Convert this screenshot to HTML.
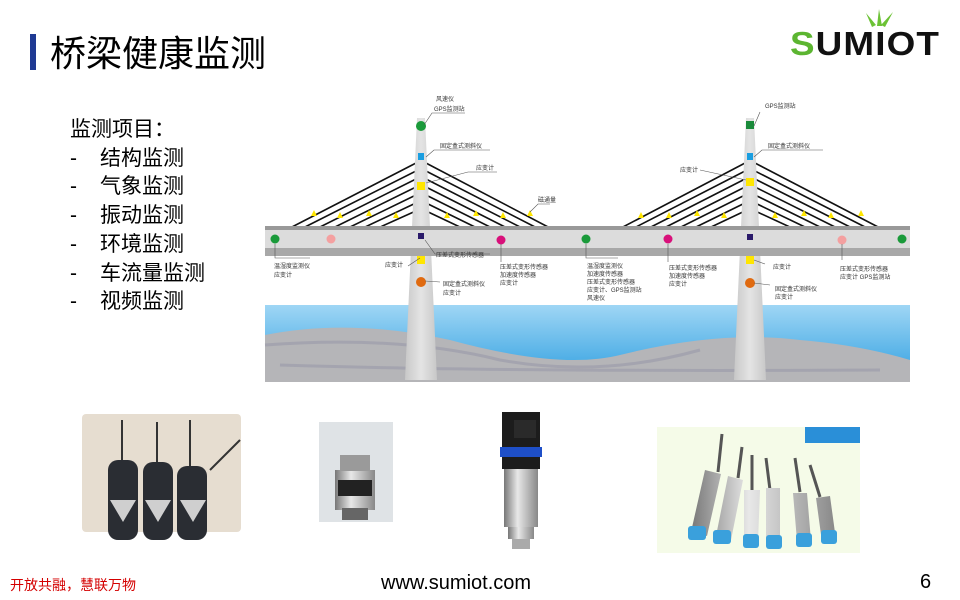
<!DOCTYPE html>
<html><head><meta charset="utf-8"><style>
html,body{margin:0;padding:0;background:#fff}
svg{display:block}
text{font-family:"Liberation Sans","Noto Sans CJK SC",sans-serif}
</style></head><body>
<svg width="960" height="600" viewBox="0 0 960 600" xmlns="http://www.w3.org/2000/svg">
<defs>
<linearGradient id="w" x1="0" y1="0" x2="0" y2="1"><stop offset="0" stop-color="#9fd6f5"/><stop offset="1" stop-color="#2f9fe0"/></linearGradient>
<linearGradient id="tw" x1="0" y1="0" x2="1" y2="0"><stop offset="0" stop-color="#c8c8c8"/><stop offset=".5" stop-color="#e4e4e4"/><stop offset="1" stop-color="#c8c8c8"/></linearGradient>
<linearGradient id="steel" x1="0" y1="0" x2="1" y2="0"><stop offset="0" stop-color="#777"/><stop offset=".4" stop-color="#e8e8e8"/><stop offset="1" stop-color="#888"/></linearGradient>
</defs>
<rect x="30" y="34" width="6" height="36" fill="#1f3a93"/>
<text x="50" y="66" font-size="36" fill="#000">桥梁健康监测</text>
<!-- logo -->
<text x="790" y="55" font-size="33" font-weight="bold" fill="#111" letter-spacing="1" textLength="150" lengthAdjust="spacingAndGlyphs"><tspan fill="#5cb531">S</tspan>UMIOT</text>
<path d="M866 13 L876 25 L872 27Z M879 9 L882 26 L877 26Z M893 12 L885 27 L881 25Z" fill="#6cc235"/>
<g font-size="21" fill="#000">
<text x="70" y="136">监测项目：</text>
<text x="70" y="165">-</text><text x="100" y="165">结构监测</text>
<text x="70" y="193">-</text><text x="100" y="193">气象监测</text>
<text x="70" y="222">-</text><text x="100" y="222">振动监测</text>
<text x="70" y="251">-</text><text x="100" y="251">环境监测</text>
<text x="70" y="280">-</text><text x="100" y="280">车流量监测</text>
<text x="70" y="308">-</text><text x="100" y="308">视频监测</text>
</g>
<!-- bridge -->
<rect x="265" y="305" width="645" height="77" fill="url(#w)"/>
<path d="M265 335 Q350 318 450 340 Q560 370 620 355 Q720 330 800 340 Q860 345 910 360 L910 382 L265 382Z" fill="#b5b5b8"/>
<path d="M265 345 Q400 335 500 360 Q600 378 700 350 M280 365 Q500 372 880 370" stroke="#9a9aa8" stroke-width="3" fill="none" opacity=".6"/>
<g stroke="#111" stroke-width="1.6">
<line x1="418" y1="162" x2="290" y2="228"/><line x1="418" y1="170" x2="303" y2="228"/><line x1="418" y1="178" x2="318" y2="228"/><line x1="418" y1="186" x2="333" y2="228"/><line x1="418" y1="194" x2="348" y2="228"/><line x1="418" y1="202" x2="363" y2="228"/><line x1="418" y1="210" x2="378" y2="228"/>
<line x1="424" y1="162" x2="550" y2="228"/><line x1="424" y1="170" x2="537" y2="228"/><line x1="424" y1="178" x2="522" y2="228"/><line x1="424" y1="186" x2="507" y2="228"/><line x1="424" y1="194" x2="492" y2="228"/><line x1="424" y1="202" x2="477" y2="228"/><line x1="424" y1="210" x2="462" y2="228"/>
<line x1="747" y1="162" x2="621" y2="228"/><line x1="747" y1="170" x2="634" y2="228"/><line x1="747" y1="178" x2="649" y2="228"/><line x1="747" y1="186" x2="664" y2="228"/><line x1="747" y1="194" x2="679" y2="228"/><line x1="747" y1="202" x2="694" y2="228"/><line x1="747" y1="210" x2="709" y2="228"/>
<line x1="753" y1="162" x2="880" y2="228"/><line x1="753" y1="170" x2="867" y2="228"/><line x1="753" y1="178" x2="852" y2="228"/><line x1="753" y1="186" x2="837" y2="228"/><line x1="753" y1="194" x2="822" y2="228"/><line x1="753" y1="202" x2="807" y2="228"/><line x1="753" y1="210" x2="792" y2="228"/>
</g>
<path d="M417 118 L425 118 L437 380 L405 380Z" fill="url(#tw)"/>
<path d="M746 118 L754 118 L766 380 L734 380Z" fill="url(#tw)"/>
<rect x="265" y="226" width="645" height="4" fill="#999"/>
<rect x="265" y="230" width="645" height="18" fill="#dcdcdc"/>
<rect x="265" y="248" width="645" height="8" fill="#a8a8a8"/>
<g fill="#ffe600">
<path d="M314 210l3 6h-6z M340 212l3 6h-6z M369 210l3 6h-6z M396 212l3 6h-6z M447 212l3 6h-6z M476 210l3 6h-6z M503 212l3 6h-6z M530 210l3 6h-6z M641 212l3 6h-6z M669 212l3 6h-6z M697 210l3 6h-6z M724 212l3 6h-6z M775 212l3 6h-6z M804 210l3 6h-6z M831 212l3 6h-6z M861 210l3 6h-6z"/>
<rect x="417" y="182" width="8" height="8"/><rect x="746" y="178" width="8" height="8"/>
<rect x="417" y="256" width="8" height="8"/><rect x="746" y="256" width="8" height="8"/>
</g>
<circle cx="421" cy="126" r="5" fill="#1a9a3a"/><rect x="746" y="121" width="8" height="8" fill="#1a8a3a"/>
<rect x="418" y="153" width="6" height="7" fill="#1a9ee0"/><rect x="747" y="153" width="6" height="7" fill="#1a9ee0"/>
<rect x="418" y="233" width="6" height="6" fill="#2a1a6a"/><rect x="747" y="234" width="6" height="6" fill="#2a1a6a"/>
<circle cx="421" cy="282" r="5" fill="#e06a10"/><circle cx="750" cy="283" r="5" fill="#e06a10"/>
<circle cx="275" cy="239" r="4.5" fill="#1a9a3a"/><circle cx="331" cy="239" r="4.5" fill="#f4a0a0"/><circle cx="501" cy="240" r="4.5" fill="#d8107a"/><circle cx="586" cy="239" r="4.5" fill="#1a9a3a"/><circle cx="668" cy="239" r="4.5" fill="#d8107a"/><circle cx="842" cy="240" r="4.5" fill="#f4a0a0"/><circle cx="902" cy="239" r="4.5" fill="#1a9a3a"/>
<g stroke="#555" stroke-width=".6" fill="none">
<path d="M424 125 L432 113 L465 113 M426 157 L434 150 L490 150 M426 183 L468 172 L497 172 M530 212 L538 204 L550 204 M425 240 L435 254 L490 254 M420 258 L408 266 M425 281 L440 282 M275 244 L275 258 L310 258 M501 244 L501 262 M586 244 L586 258 L618 258 M668 244 L668 262 M754 126 L760 112 M754 157 L762 150 L823 150 M746 180 L700 170 M754 260 L765 264 M754 283 L770 285 M842 244 L842 260"/>
</g>
<g font-size="6" fill="#333">
<text x="436" y="101">风速仪</text><text x="434" y="111">GPS监测站</text>
<text x="440" y="148">固定盒式测斜仪</text><text x="476" y="170">应变计</text><text x="538" y="202">磁通量</text>
<text x="436" y="257">压差式变形传感器</text><text x="385" y="267">应变计</text><text x="443" y="286">固定盒式测斜仪</text><text x="443" y="295">应变计</text>
<text x="274" y="268">温湿度监测仪</text><text x="274" y="277">应变计</text>
<text x="500" y="269">压差式变形传感器</text><text x="500" y="277">加速度传感器</text><text x="500" y="285">应变计</text>
<text x="587" y="268">温湿度监测仪</text><text x="587" y="276">加速度传感器</text><text x="587" y="284">压差式变形传感器</text><text x="587" y="292">应变计、GPS监测站</text><text x="587" y="300">风速仪</text>
<text x="669" y="270">压差式变形传感器</text><text x="669" y="278">加速度传感器</text><text x="669" y="286">应变计</text>
<text x="765" y="108">GPS监测站</text><text x="768" y="148">固定盒式测斜仪</text><text x="680" y="172">应变计</text>
<text x="773" y="269">应变计</text><text x="775" y="291">固定盒式测斜仪</text><text x="775" y="299">应变计</text>
<text x="840" y="271">压差式变形传感器</text><text x="840" y="279">应变计 GPS监测站</text>
</g>
<!-- photos -->
<rect x="82" y="414" width="159" height="118" rx="4" fill="#e6ddd0"/>
<g fill="#2a2d33"><rect x="108" y="460" width="30" height="80" rx="10"/><rect x="143" y="462" width="30" height="78" rx="10"/><rect x="177" y="466" width="30" height="74" rx="10"/></g>
<g fill="#cfcfcf"><path d="M110 500h26l-13 22z M145 500h26l-13 22z M180 500h26l-13 22z"/></g>
<path d="M122 460V420 M157 462V422 M190 466V420 M210 470 Q230 450 240 440" stroke="#333" stroke-width="2" fill="none"/>
<rect x="319" y="422" width="74" height="100" fill="#dfe3e6"/>
<rect x="335" y="470" width="40" height="40" fill="url(#steel)"/><rect x="338" y="480" width="34" height="16" fill="#222"/><rect x="340" y="455" width="30" height="16" fill="#9a9a9a"/><rect x="342" y="508" width="26" height="12" fill="#666"/>
<rect x="502" y="412" width="38" height="35" fill="#1c1c1c"/><rect x="514" y="420" width="22" height="18" fill="#2a2a2a"/>
<rect x="500" y="447" width="42" height="10" fill="#1e4fc8"/><rect x="502" y="457" width="38" height="12" fill="#1c1c1c"/>
<rect x="504" y="469" width="34" height="58" fill="url(#steel)"/><rect x="508" y="527" width="26" height="12" fill="url(#steel)"/><rect x="512" y="539" width="18" height="10" fill="#aaa"/>
<rect x="657" y="427" width="203" height="126" fill="#f5fbe8"/>
<rect x="805" y="427" width="55" height="16" fill="#2a8fd8"/>
<g stroke="#555" stroke-width="3"><line x1="718" y1="472" x2="722" y2="434"/><line x1="738" y1="478" x2="742" y2="447"/><line x1="752" y1="490" x2="752" y2="455"/><line x1="770" y1="490" x2="766" y2="458"/><line x1="800" y1="492" x2="795" y2="458"/><line x1="820" y1="497" x2="810" y2="465"/></g>
<g fill="url(#steel)"><path d="M705 470l16 4-14 62-16-4z M728 476l15 4-12 60-15-4z M744 490l16 0-2 52-14 0z M766 488l14 0 0 52-14 0z M793 493l14 0 4 48-14 0z M816 498l14-2 6 44-14 2z"/></g>
<g fill="#3aa0dc"><rect x="688" y="526" width="18" height="14" rx="3"/><rect x="713" y="530" width="18" height="14" rx="3"/><rect x="743" y="534" width="16" height="14" rx="3"/><rect x="766" y="535" width="16" height="14" rx="3"/><rect x="796" y="533" width="16" height="14" rx="3"/><rect x="821" y="530" width="16" height="14" rx="3"/></g>
<!-- footer -->
<text x="10" y="590" font-size="14" fill="#d40000">开放共融，慧联万物</text>
<text x="381" y="589" font-size="20" fill="#000">www.sumiot.com</text>
<text x="920" y="588" font-size="20" fill="#000">6</text>
</svg>
</body></html>
